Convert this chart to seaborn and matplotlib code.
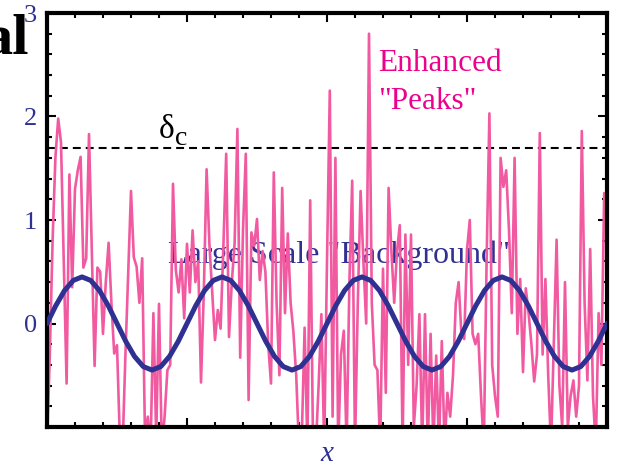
import numpy as np
import pandas as pd
import matplotlib
matplotlib.use("Agg")
import matplotlib.pyplot as plt
from matplotlib.ticker import MultipleLocator
import seaborn as sns

# ---------------- data ----------------
# noisy "density" field, 201 samples over x = 0 .. 4
field_values = [
    -1.2, -0.3, 0.8, 1.6, 1.98, 1.75, 0.6, -0.58, 1.44, 0.35,
    1.3, 1.48, 1.61, 0.54, 0.63, 1.83, 0.7, -0.41, 0.54, 0.5,
    -0.1, 0.4, 0.78, 0.2, -0.29, -0.21, -1.1, -1.2, -0.31, 0.5,
    1.28, 0.64, 0.55, 0.2, 0.63, -1.1, -0.9, -1.2, 0.1, -1.1,
    0.19, -1.2, -0.9, -0.45, -0.4, 1.35, 0.52, 0.3, 0.62, 0.05,
    0.77, 0.3, 0.9, 0.4, 0.6, -0.57, 0.3, 1.49, 0.77, 0.3,
    -0.16, 0.13, -0.05, 0.75, 1.64, -0.13, 0.4, 0.77, 1.88, -0.33,
    0.9, 1.64, -0.74, 0.88, 0.75, 1.01, 0.42, 0.7, 0.5, -0.2,
    -0.58, 1.46, 0.2, -0.5, 1.31, 0.1, 0.87, 0.2, -0.08, -0.5,
    -1.2, -1.1, -0.04, -1.2, 1.19, -1.15, -1.2, -0.6, 0.09, -1.2,
    0.6, 2.25, -0.9, 1.6, -1.2, -0.3, -0.07, -1.2, 0.4, 1.38,
    -1.2, 0.2, 1.28, 0.6, 0.0, 2.8, 0.2, -0.4, -0.45, -1.2,
    0.53, -0.67, 1.31, 0.7, 0.2, 0.7, 0.95, -1.2, 0.86, -0.4,
    0.86, -1.0, -0.6, 0.09, -1.2, 0.09, -1.2, -0.1, -1.2, -0.31,
    -1.2, -0.17, -1.2, -0.67, -0.9, -0.5, 0.2, 0.4, -0.1, -0.15,
    0.71, 1.0, -0.1, -0.2, -0.1, -0.7, -1.2, 0.6, 2.03, -0.4,
    -0.7, -0.9, 1.6, 1.32, 1.48, 0.9, 0.1, 1.6, -0.1, 0.43,
    -0.47, 0.34, 0.1, -0.2, -0.56, -0.3, 1.84, -0.3, 0.43, -0.5,
    -1.2, -0.2, 0.81, -0.6, -1.0, 0.4, -1.0, -0.7, -0.55, -0.9,
    -0.6, 1.86, 0.2, -0.55, 0.72, -0.7, -1.2, 0.1, -0.4, 1.26,
    1.25,
]

# smooth large-scale background, 65 samples over x = 0 .. 4
background_values = [
    0.0, 0.172, 0.318, 0.416, 0.45, 0.416, 0.318, 0.172,
    0.0, -0.172, -0.318, -0.416, -0.45, -0.416, -0.318, -0.172,
    0.0, 0.172, 0.318, 0.416, 0.45, 0.416, 0.318, 0.172,
    0.0, -0.172, -0.318, -0.416, -0.45, -0.416, -0.318, -0.172,
    0.0, 0.172, 0.318, 0.416, 0.45, 0.416, 0.318, 0.172,
    0.0, -0.172, -0.318, -0.416, -0.45, -0.416, -0.318, -0.172,
    0.0, 0.172, 0.318, 0.416, 0.45, 0.416, 0.318, 0.172,
    0.0, -0.172, -0.318, -0.416, -0.45, -0.416, -0.318, -0.172,
    0.0,
]

x_range = [0.0, 4.0]
threshold = 1.7
y_ticks = [0, 1, 2, 3]
y_tick_labels = ["0", "1", "2", "3"]

# ---------------- styling ----------------
PINK = "#f15aa0"
MAGENTA = "#ec008c"
BLUE = "#2e3192"

sns.set_style("ticks")
plt.rcParams["font.family"] = ["Liberation Serif", "DejaVu Serif"]

field = pd.DataFrame({
    "x": np.linspace(x_range[0], x_range[1], len(field_values)),
    "delta": field_values,
})
background = pd.DataFrame({
    "x": np.linspace(x_range[0], x_range[1], len(background_values)),
    "delta": background_values,
})

fig = plt.figure(figsize=(6.18, 4.65), dpi=100)
ax = fig.add_axes([47 / 618, 1 - 427 / 465, 560 / 618, 414 / 465])

ax.axhline(threshold, color="black", lw=1.5, ls=(0, (3.8, 2.4)), zorder=1.5)
sns.lineplot(data=field, x="x", y="delta", ax=ax, color=PINK, lw=1.9,
             estimator=None, sort=False, zorder=2)
sns.lineplot(data=background, x="x", y="delta", ax=ax, color=BLUE, lw=3.6,
             estimator=None, sort=False, zorder=3)

ax.set_xlim(*x_range)
ax.set_ylim(-1, 3)
ax.set_yticks(y_ticks)
ax.set_yticklabels(y_tick_labels)
ax.xaxis.set_major_locator(MultipleLocator(1))
ax.xaxis.set_minor_locator(MultipleLocator(0.2))
ax.yaxis.set_minor_locator(MultipleLocator(0.2))
ax.tick_params(which="both", direction="in", top=True, right=True,
               labelbottom=False, width=1.5, color="black")
ax.tick_params(which="major", length=6.5, labelsize=19, labelcolor=BLUE, pad=7)
ax.tick_params(which="minor", length=3.6)
for s in ax.spines.values():
    s.set_linewidth(3)
    s.set_color("black")

ax.set_ylabel("")
ax.set_xlabel("x", style="italic", color=BLUE, fontsize=21, labelpad=10)

# annotations
ax.text(0.8, 1.79, "δ", fontsize=24, color="black",
        ha="left", va="baseline", zorder=1)
ax.annotate("c", xy=(0.8, 1.79), xytext=(11.5, -5), textcoords="offset points",
            fontsize=20, color="black", ha="left", va="baseline", zorder=1)
ax.text(2.364, 2.077, "Enhanced\n\"Peaks\"", fontsize=22.5, color=MAGENTA,
        ha="left", va="baseline", linespacing=1.38, zorder=1)
ax.text(0.864, 0.58, "Large Scale \"Background\"", fontsize=23, color=BLUE,
        ha="left", va="baseline", zorder=1)

# cut-off title fragment at top-left
fig.text(29 / 618, 1 - 53 / 465, "al", fontsize=42, fontweight="bold",
         color="black", ha="right", va="baseline", family="Liberation Serif")

fig.savefig("out.png", dpi=100)
